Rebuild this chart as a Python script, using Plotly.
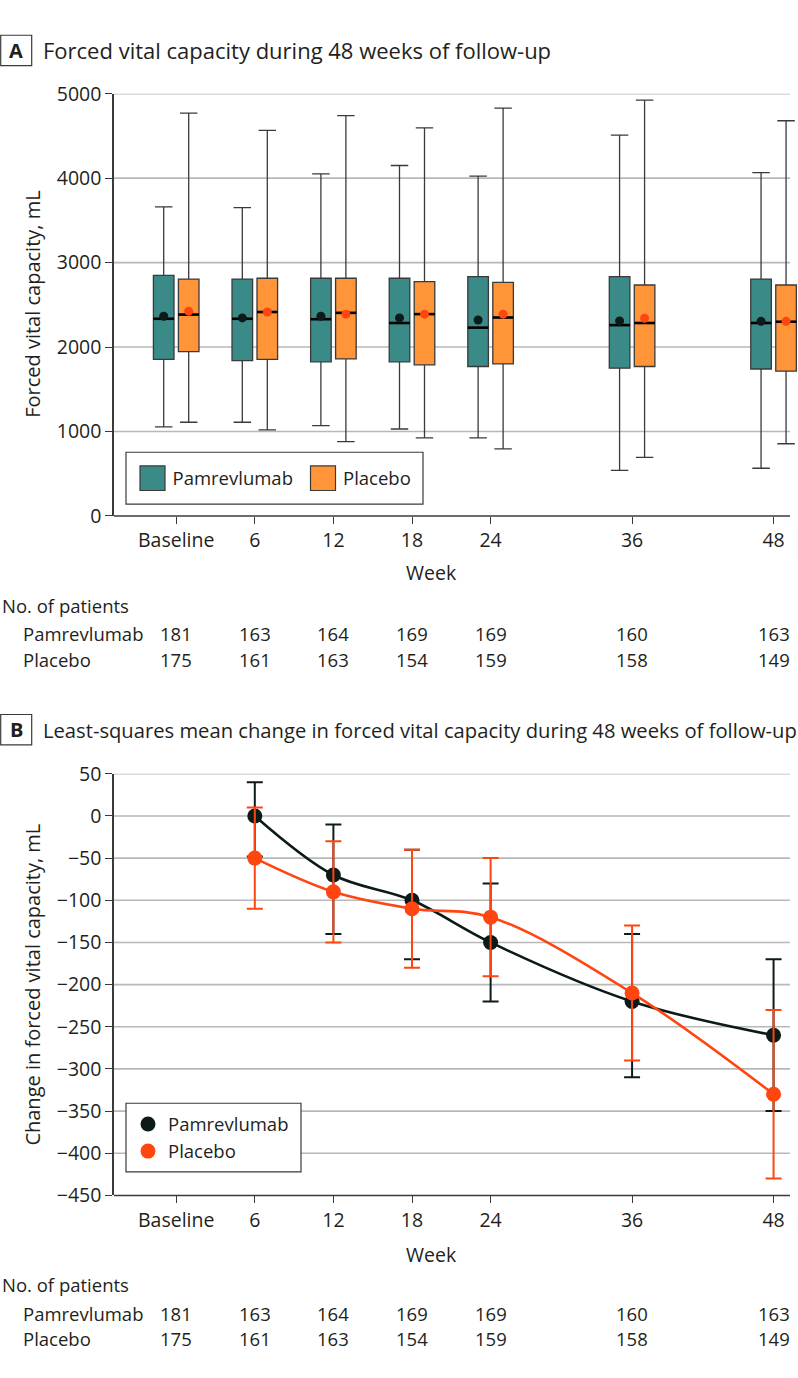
import plotly.graph_objects as go

# ---------------- data ----------------
week_labels = ["Baseline", "6", "12", "18", "24", "36", "48"]
week_pos = [0, 1, 2, 3, 4, 5.8, 7.6]

# Panel A: box plot summary values (mL)
pam_upper = [3660, 3650, 4050, 4150, 4025, 4510, 4065]
pam_q3 = [2850, 2805, 2815, 2815, 2835, 2835, 2805]
pam_median = [2335, 2335, 2330, 2285, 2230, 2260, 2285]
pam_mean = [2365, 2345, 2365, 2345, 2320, 2310, 2305]
pam_q1 = [1855, 1840, 1825, 1825, 1770, 1750, 1740]
pam_lower = [1055, 1110, 1070, 1030, 925, 540, 565]

plc_upper = [4770, 4565, 4740, 4595, 4830, 4925, 4680]
plc_q3 = [2805, 2815, 2815, 2775, 2765, 2735, 2735]
plc_median = [2385, 2415, 2405, 2390, 2350, 2285, 2300]
plc_mean = [2425, 2415, 2390, 2390, 2390, 2340, 2305]
plc_q1 = [1945, 1855, 1860, 1790, 1800, 1770, 1715]
plc_lower = [1110, 1020, 880, 925, 795, 695, 855]

# Panel B: LS mean change (mL) with CI limits, weeks 6..48
b_labels = ["6", "12", "18", "24", "36", "48"]
pam_change = [0, -70, -100, -150, -220, -260]
pam_ci_hi = [40, -10, -40, -80, -140, -170]
pam_ci_lo = [-48, -140, -170, -220, -310, -350]
plc_change = [-50, -90, -110, -120, -210, -330]
plc_ci_hi = [10, -30, -40, -50, -130, -230]
plc_ci_lo = [-110, -150, -180, -190, -290, -430]

# Number of patients
pam_n = [181, 163, 164, 169, 169, 160, 163]
plc_n = [175, 161, 163, 154, 159, 158, 149]

# ---------------- styling ----------------
W, H = 798, 1378
FONT = "Open Sans, Lato, sans-serif"
TXT = "#231f20"
TEAL = "#3a8a87"
ORANGE = "#ff9538"
PAM_DARK = "#0c1a1a"
PLC_RED = "#ff4510"
GRID = "#b8b8b8"
AX = "#3a3a3a"

def px(x):
    return x / W

def py(y):
    return 1 - y / H

X_L, X_R, X_PLOT_R = 114, 798, 790
X0_PX, X_UNIT = 176.2, 78.6
x_range = [(X_L - X0_PX) / X_UNIT, (X_R - X0_PX) / X_UNIT]

A_TOP, A_BOT = 81.3, 512
B_TOP, B_BOT = 775, 1205

BOX_OFF = 0.159
BOX_W = 0.262

fig = go.Figure()

# ---------------- Panel A ----------------
def pos_shift(d):
    return [p + d for p in week_pos]

for name, d, col, q1, med, q3, lo, hi in [
    ("Pamrevlumab", -BOX_OFF, TEAL, pam_q1, pam_median, pam_q3, pam_lower, pam_upper),
    ("Placebo", BOX_OFF, ORANGE, plc_q1, plc_median, plc_q3, plc_lower, plc_upper),
]:
    fig.add_trace(go.Box(
        x=pos_shift(d), q1=q1, median=med, q3=q3, lowerfence=lo, upperfence=hi,
        width=BOX_W, whiskerwidth=0.85, fillcolor=col,
        line=dict(color=AX, width=1.3), xaxis="x", yaxis="y",
        showlegend=False, hoverinfo="skip", boxpoints=False,
    ))
    mx, my = [], []
    for p, m in zip(pos_shift(d), med):
        mx += [p - BOX_W / 2, p + BOX_W / 2, None]
        my += [m, m, None]
    fig.add_trace(go.Scatter(x=mx, y=my, mode="lines", line=dict(color="#000000", width=2.6),
                             xaxis="x", yaxis="y", showlegend=False, hoverinfo="skip"))

fig.add_trace(go.Scatter(x=pos_shift(-BOX_OFF), y=pam_mean, mode="markers",
                         marker=dict(color=PAM_DARK, size=9), xaxis="x", yaxis="y",
                         showlegend=False, hoverinfo="skip"))
fig.add_trace(go.Scatter(x=pos_shift(BOX_OFF), y=plc_mean, mode="markers",
                         marker=dict(color=PLC_RED, size=9), xaxis="x", yaxis="y",
                         showlegend=False, hoverinfo="skip"))

# legend entries for panel A (one legend per entry for exact placement)
for name, col, lg in [("Pamrevlumab", TEAL, "legend"), ("Placebo", ORANGE, "legend3")]:
    fig.add_trace(go.Scatter(x=[None], y=[None], mode="markers", name=name,
                             marker=dict(symbol="square", size=16, color=col,
                                         line=dict(width=0)),
                             xaxis="x", yaxis="y", legend=lg))

# ---------------- Panel B ----------------
b_pos = [week_pos[week_labels.index(w)] for w in b_labels]
for name, col, yv, hi, lo in [
    ("Pamrevlumab", PAM_DARK, pam_change, pam_ci_hi, pam_ci_lo),
    ("Placebo", PLC_RED, plc_change, plc_ci_hi, plc_ci_lo),
]:
    fig.add_trace(go.Scatter(
        x=b_pos, y=yv, mode="lines+markers",
        line=dict(color=col, width=2.6, shape="spline", smoothing=1.0),
        marker=dict(color=col, size=15),
        error_y=dict(type="data", symmetric=False,
                     array=[h - v for h, v in zip(hi, yv)],
                     arrayminus=[v - l for v, l in zip(yv, lo)],
                     color=col, thickness=2, width=8),
        xaxis="x2", yaxis="y2", showlegend=False, hoverinfo="skip",
    ))
for name, col in [("Pamrevlumab", PAM_DARK), ("Placebo", PLC_RED)]:
    fig.add_trace(go.Scatter(x=[None], y=[None], mode="markers", name=name,
                             marker=dict(symbol="circle", size=15, color=col),
                             xaxis="x2", yaxis="y2", legend="legend2"))

# ---------------- axes ----------------
tickfont = dict(family=FONT, size=19.5, color=TXT)
common_x = dict(range=x_range, tickvals=week_pos, ticktext=week_labels,
                ticks="outside", ticklen=7, tickwidth=1.3, tickcolor=AX,
                showgrid=False, zeroline=False, showline=False,
                tickfont=tickfont, domain=[px(X_L), 1])
fig.update_layout(
    xaxis=dict(anchor="y", **common_x),
    xaxis2=dict(anchor="y2", **common_x),
    yaxis=dict(range=[0, 5000], tickvals=[0, 1000, 2000, 3000, 4000, 5000],
               domain=[py(A_BOT), py(A_TOP)], anchor="x",
               ticks="outside", ticklen=7, tickwidth=1.3, tickcolor=AX,
               showline=True, linecolor=AX, linewidth=1.5, showgrid=False,
               zeroline=False, tickfont=tickfont),
    yaxis2=dict(range=[-450, 50], tickvals=list(range(-450, 51, 50)),
                domain=[py(B_BOT), py(B_TOP)], anchor="x2",
                ticks="outside", ticklen=7, tickwidth=1.3, tickcolor=AX,
                showline=True, linecolor=AX, linewidth=1.5, showgrid=False,
                zeroline=False, tickfont=tickfont),
)

shapes = []
for v in [1000, 2000, 3000, 4000, 5000]:
    shapes.append(dict(type="line", xref="paper", yref="y", x0=px(X_L), x1=px(X_PLOT_R),
                       y0=v, y1=v, line=dict(color=GRID, width=1.6), layer="below"))
for v in range(-400, 51, 50):
    shapes.append(dict(type="line", xref="paper", yref="y2", x0=px(X_L), x1=px(X_PLOT_R),
                       y0=v, y1=v, line=dict(color=GRID, width=1.6), layer="below"))
for yy in [A_BOT, B_BOT]:
    shapes.append(dict(type="line", xref="paper", yref="paper", x0=px(X_L), x1=px(X_PLOT_R),
                       y0=py(yy), y1=py(yy), line=dict(color=AX, width=1.5)))
for top in [21.7, 714.5]:
    shapes.append(dict(type="rect", xref="paper", yref="paper", x0=px(0.7), x1=px(31.7),
                       y0=py(top + 31), y1=py(top), line=dict(color=AX, width=1.2)))
# legend frames
for (x0, x1, y0, y1) in [(126, 423, 447, 500), (126, 301, 1111, 1181)]:
    shapes.append(dict(type="rect", xref="paper", yref="paper", x0=px(x0), x1=px(x1),
                       y0=py(y1), y1=py(y0), line=dict(color=AX, width=1.2),
                       fillcolor="white", layer="above"))
# legend swatches of panel A (behind the legend symbols)
for cx, col in [(152.5, TEAL), (323, ORANGE)]:
    shapes.append(dict(type="rect", xref="paper", yref="paper", x0=px(cx - 12.5), x1=px(cx + 12.5),
                       y0=py(486), y1=py(461), line=dict(color=AX, width=1.2),
                       fillcolor=col, layer="above"))

ann = []
def text(x, y, s, size=19, xanchor="left", xref="paper", angle=0):
    ann.append(dict(x=x, y=y, xref=xref, yref="paper", text=s, showarrow=False,
                    xanchor=xanchor, yanchor="middle", textangle=angle,
                    font=dict(family=FONT, size=size, color=TXT)))

# Panel headers
text(px(16.2), py(37), "<b>A</b>", size=20, xanchor="center")
text(px(41), py(37), "Forced vital capacity during 48 weeks of follow-up", size=22)
text(px(16.2), py(730), "<b>B</b>", size=20, xanchor="center")
text(px(41), py(730), "Least-squares mean change in forced vital capacity during 48 weeks of follow-up", size=20.2)

# Axis titles
text(px(33), py((A_TOP + A_BOT) / 2), "Forced vital capacity, mL", size=20, xanchor="center", angle=-90)
text(px(33), py((B_TOP + B_BOT) / 2), "Change in forced vital capacity, mL", size=20, xanchor="center", angle=-90)
text(px(431), py(570), "Week", size=19.5, xanchor="center")
text(px(431), py(1265), "Week", size=19.5, xanchor="center")

# Number of patients tables
for base, xr in [(603, "x"), (1296, "x2")]:
    text(0, py(base), "No. of patients", size=18.5)
    text(px(21), py(base + 29), "Pamrevlumab", size=18.5)
    text(px(21), py(base + 55), "Placebo", size=18.5)
    for p, a, b in zip(week_pos, pam_n, plc_n):
        text(p, py(base + 29), str(a), size=18.5, xanchor="center", xref=xr)
        text(p, py(base + 55), str(b), size=18.5, xanchor="center", xref=xr)

legend_common = dict(borderwidth=0, bgcolor="rgba(0,0,0,0)",
                     font=dict(family=FONT, size=18.5, color=TXT),
                     itemsizing="trace", tracegroupgap=0)
fig.update_layout(
    width=W, height=H, margin=dict(l=0, r=0, t=0, b=0),
    paper_bgcolor="white", plot_bgcolor="white",
    boxmode="overlay",
    font=dict(family=FONT, size=19, color=TXT),
    shapes=shapes, annotations=ann,
    legend=dict(orientation="h", x=px(132.5), y=py(473.5), xanchor="left", yanchor="middle",
                **legend_common),
    legend3=dict(orientation="h", x=px(303), y=py(473.5), xanchor="left", yanchor="middle",
                 **legend_common),
    legend2=dict(orientation="v", x=px(128), y=py(1146.5), xanchor="left", yanchor="middle",
                 **legend_common),
)

fig.write_html("out.html", config={"displayModeBar": False},
               post_script="document.body.style.margin='0';")
